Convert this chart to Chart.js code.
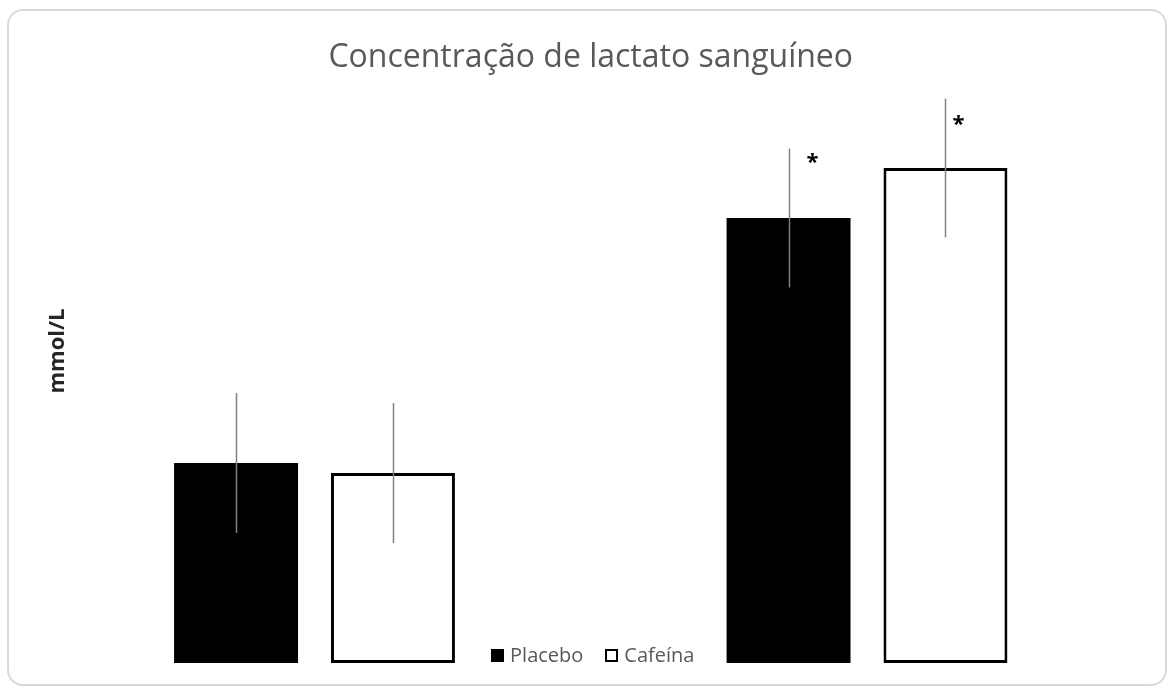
<!DOCTYPE html>
<html lang="pt">
<head>
<meta charset="utf-8">
<title>Concentração de lactato sanguíneo</title>
<script src="https://cdn.jsdelivr.net/npm/chart.js@4/dist/chart.umd.min.js"></script>
<style>
  html, body { margin: 0; padding: 0; background: #ffffff; }
  body { width: 1169px; height: 688px; position: relative; overflow: hidden; }
  .frame {
    position: absolute; left: 7px; top: 9px; width: 1160px; height: 677px;
    box-sizing: border-box; border: 2px solid #d9d9d9; border-radius: 16px;
  }
  #chart { position: absolute; left: 0; top: 0; }
</style>
</head>
<body>
<div class="frame"></div>
<canvas id="chart" width="1169" height="688"></canvas>
<script>
// Lactato sanguíneo (mmol/L): média e desvio-padrão por condição
const categories = ['Momento 1', 'Momento 2'];
const placeboValues = [4.0, 8.9];
const placeboErrors = [1.4, 1.39];
const cafeinaValues = [3.8, 9.9];
const cafeinaErrors = [1.4, 1.39];
const placeboMarks = ['', '*'];
const cafeinaMarks = ['', '*'];
const yAxisLabel = 'mmol/L';

const FONT = "'Open Sans', 'Segoe UI', 'DejaVu Sans', sans-serif";

// Linhas verticais de desvio-padrão e marcas de significância sobre as barras
const errorBarsPlugin = {
  id: 'errorBars',
  afterDatasetsDraw(chart, args, opts) {
    const { ctx, scales: { y } } = chart;
    chart.data.datasets.forEach((ds, i) => {
      const meta = chart.getDatasetMeta(i);
      if (meta.hidden) return;
      const off = (opts.markOffsets || [])[i] || { dx: 0, dy: 0 };
      meta.data.forEach((bar, j) => {
        const v = ds.data[j];
        const e = ds.errors[j];
        const x = Math.round(bar.x) + 0.5;
        const top = y.getPixelForValue(v + e);
        const bottom = y.getPixelForValue(v - e);
        ctx.save();
        ctx.strokeStyle = opts.color;
        ctx.lineWidth = opts.width;
        ctx.beginPath();
        ctx.moveTo(x, top);
        ctx.lineTo(x, bottom);
        ctx.stroke();
        const mark = ds.marks[j];
        if (mark) {
          ctx.fillStyle = '#000000';
          ctx.font = 'bold 22px ' + FONT;
          ctx.textAlign = 'center';
          ctx.textBaseline = 'middle';
          ctx.fillText(mark, bar.x + off.dx, top + off.dy);
        }
        ctx.restore();
      });
    });
  }
};

// Título do eixo vertical
const yTitlePlugin = {
  id: 'yTitle',
  afterDraw(chart, args, opts) {
    const { ctx } = chart;
    ctx.save();
    ctx.translate(opts.x, opts.y);
    ctx.rotate(-Math.PI / 2);
    ctx.font = 'bold 22px ' + FONT;
    ctx.fillStyle = '#262626';
    ctx.textAlign = 'center';
    ctx.textBaseline = 'middle';
    ctx.fillText(opts.text, 0, 0);
    ctx.restore();
  }
};

// Legenda em linha, sobreposta à base da área do gráfico
const inlineLegendPlugin = {
  id: 'inlineLegend',
  afterDraw(chart, args, opts) {
    const { ctx, chartArea } = chart;
    const box = 13, gapText = 6, gapItem = 22;
    ctx.save();
    ctx.font = '20px ' + FONT;
    const items = chart.data.datasets.map(ds => ({
      ds, w: box + gapText + ctx.measureText(ds.label).width
    }));
    const total = items.reduce((s, it) => s + it.w, 0) + gapItem * (items.length - 1);
    let x = (chartArea.left + chartArea.right) / 2 - total / 2 + opts.shift;
    const baseY = opts.baseline;
    items.forEach(({ ds, w }) => {
      const bx = Math.round(x), by = baseY - box;
      ctx.fillStyle = ds.backgroundColor;
      ctx.fillRect(bx, by, box, box);
      if (ds.borderWidth) {
        ctx.strokeStyle = ds.borderColor;
        ctx.lineWidth = 2;
        ctx.strokeRect(bx + 1, by + 1, box - 2, box - 2);
      }
      ctx.fillStyle = '#595959';
      ctx.textAlign = 'left';
      ctx.textBaseline = 'alphabetic';
      ctx.fillText(ds.label, x + box + gapText, baseY);
      x += w + gapItem;
    });
    ctx.restore();
  }
};

new Chart(document.getElementById('chart'), {
  type: 'bar',
  data: {
    labels: categories,
    datasets: [
      {
        label: 'Placebo',
        data: placeboValues,
        errors: placeboErrors,
        marks: placeboMarks,
        backgroundColor: '#000000',
        borderColor: '#000000',
        borderWidth: 0,
        barPercentage: 0.79,
        categoryPercentage: 0.568
      },
      {
        label: 'Cafeína',
        data: cafeinaValues,
        errors: cafeinaErrors,
        marks: cafeinaMarks,
        backgroundColor: '#ffffff',
        borderColor: '#000000',
        borderWidth: 3,
        borderSkipped: false,
        barPercentage: 0.79,
        categoryPercentage: 0.568
      }
    ]
  },
  options: {
    responsive: false,
    animation: false,
    layout: { padding: { left: 38.25, right: 25.75, top: 20, bottom: 25 } },
    scales: {
      x: { display: false },
      y: { display: false, min: 0, max: 11.5 }
    },
    plugins: {
      legend: { display: false },
      tooltip: { enabled: false },
      title: {
        display: true,
        text: 'Concentração de lactato sanguíneo',
        color: '#595959',
        font: { family: FONT, size: 32, weight: 'normal' },
        padding: { top: 18.8, bottom: 10.8 }
      },
      errorBars: {
        color: '#808080',
        width: 1.5,
        markOffsets: [{ dx: 24, dy: 14 }, { dx: 13, dy: 26 }]
      },
      yTitle: { text: yAxisLabel, x: 58, y: 351 },
      inlineLegend: { baseline: 662, shift: 2 }
    }
  },
  plugins: [errorBarsPlugin, yTitlePlugin, inlineLegendPlugin]
});
</script>
</body>
</html>
